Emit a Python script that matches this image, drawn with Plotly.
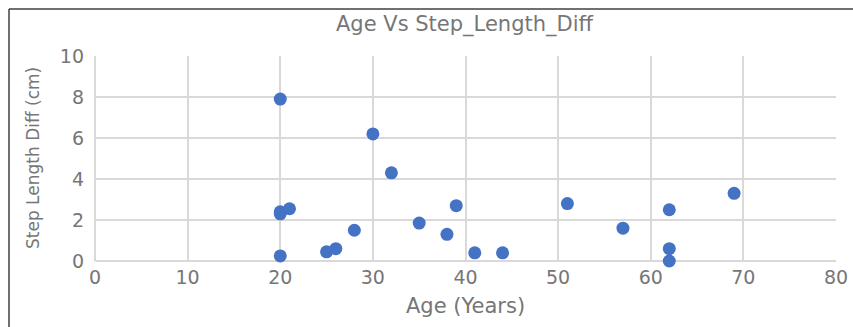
import plotly.graph_objects as go

age = [20, 30, 32, 20, 20, 21, 20, 25, 26, 28, 35, 38, 39, 41, 44, 51, 57, 62, 62, 62, 69]
step_diff = [7.9, 6.2, 4.3, 2.4, 2.3, 2.55, 0.25, 0.45, 0.6, 1.5, 1.85, 1.3, 2.7, 0.4, 0.4, 2.8, 1.6, 2.5, 0.6, 0.0, 3.3]

x_ticks = [0, 10, 20, 30, 40, 50, 60, 70, 80]
y_ticks = [0, 2, 4, 6, 8, 10]

W, H = 853, 327
L, R, T, B = 95, 17, 56, 66
pw, ph = W - L - R, H - T - B

FONT = "DejaVu Sans, Arial"
GRAY = "#767676"

fig = go.Figure(go.Scatter(
    x=age, y=step_diff, mode="markers",
    marker=dict(color="#4472C4", size=13, line=dict(width=0)),
    cliponaxis=False,
))

grid = "#d9d9d9"
tickfont = dict(family=FONT, size=19, color=GRAY)


def px_x(p):
    return (p - L) / pw


def px_y(p):
    return (H - B - p) / ph


fig.update_layout(
    width=W, height=H,
    margin=dict(l=L, r=R, t=T, b=B),
    paper_bgcolor="white", plot_bgcolor="white",
    showlegend=False,
    xaxis=dict(range=[0, 80], tickvals=x_ticks, showgrid=True, gridcolor=grid, gridwidth=1.5,
               zeroline=True, zerolinecolor=grid, zerolinewidth=1.5,
               showline=False, ticks="", tickfont=tickfont, ticklabelstandoff=3,
               automargin=False),
    yaxis=dict(range=[0, 10], tickvals=y_ticks, showgrid=True, gridcolor=grid, gridwidth=1.5,
               zeroline=True, zerolinecolor=grid, zerolinewidth=1.5,
               showline=False, ticks="", tickfont=tickfont, ticklabelstandoff=10,
               automargin=False),
    annotations=[
        dict(text="Age Vs Step_Length_Diff", xref="paper", yref="paper",
             x=px_x(465), y=px_y(24), xanchor="center", yanchor="middle", showarrow=False,
             font=dict(family=FONT, size=21, color=GRAY)),
        dict(text="Age (Years)", xref="paper", yref="paper",
             x=px_x(465), y=px_y(306), xanchor="center", yanchor="middle", showarrow=False,
             font=dict(family=FONT, size=21, color=GRAY)),
        dict(text="Step Length Diff (cm)", xref="paper", yref="paper", textangle=-90,
             x=px_x(33), y=px_y(158), xanchor="center", yanchor="middle", showarrow=False,
             font=dict(family=FONT, size=17, color=GRAY)),
    ],
    shapes=[
        dict(type="line", xref="paper", yref="paper",
             x0=px_x(9), x1=px_x(W + 5), y0=px_y(9), y1=px_y(9),
             line=dict(color="#404040", width=1.5)),
        dict(type="line", xref="paper", yref="paper",
             x0=px_x(9), x1=px_x(9), y0=px_y(9), y1=px_y(H + 5),
             line=dict(color="#404040", width=1.5)),
    ],
)

# remove the browser's default 8px body margin so the figure fills the window exactly
fig.write_html("out.html", config={"displayModeBar": False},
               post_script="document.body.style.margin='0';")
